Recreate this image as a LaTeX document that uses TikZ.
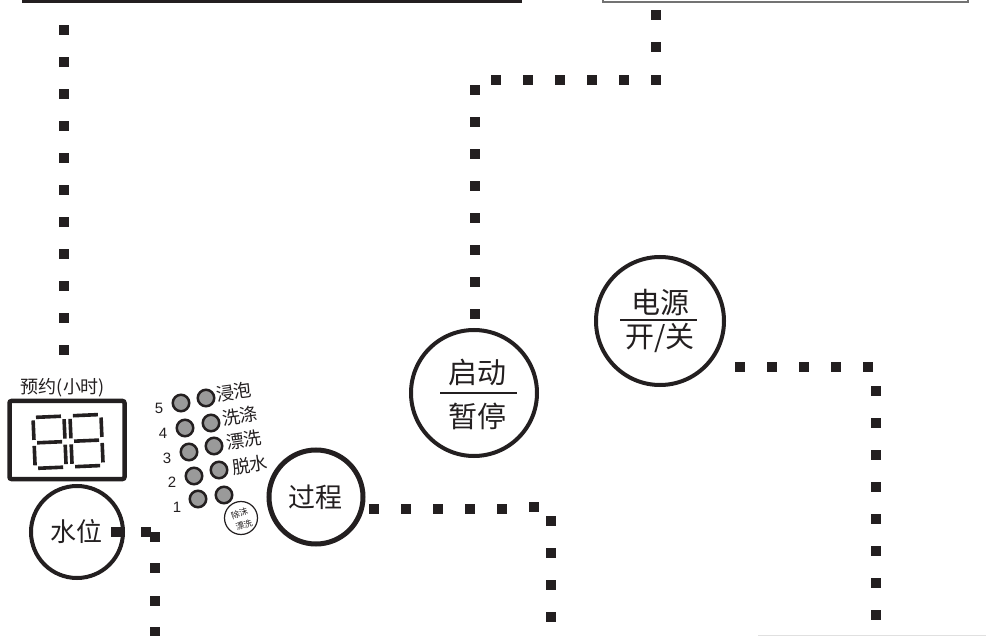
\documentclass[tikz,border=0pt]{standalone}
\usepackage{fontspec}
\setmainfont{Liberation Sans}
\newfontfamily\cjk{Noto Sans CJK SC}
\definecolor{ink}{HTML}{231F20}
\definecolor{ledgray}{HTML}{9A9A9A}
\tikzset{
  sq/.style={rectangle, fill=ink, draw=none, minimum size=10pt, inner sep=0pt},
  ring/.style={circle, draw=ink, line width=4pt, inner sep=0pt},
  led/.style={circle, draw=ink, fill=ledgray, line width=2.5pt, minimum size=16.5pt, inner sep=0pt},
  seg/.style={draw=ink, line width=3.6pt, line cap=butt},
  bigcjk/.style={text=ink, inner sep=0pt, font=\cjk\fontsize{29}{31}\selectfont},
  labcjk/.style={text=ink, inner sep=0pt, font=\cjk\fontsize{18}{20}\selectfont, rotate=8},
  bubcjk/.style={text=ink, inner sep=0pt, font=\cjk\fontsize{8.5}{9}\selectfont, rotate=20},
  num/.style={text=ink, inner sep=0pt, font=\fontsize{15}{17}\selectfont},
  divider/.style={draw=ink, line width=1.5pt}
}
\newcommand\digeight[2]{%
  \draw[seg] ({#1+3},{#2}) -- ({#1+28},{#2});
  \draw[seg] ({#1+3},{#2+25.5}) -- ({#1+28},{#2+25.5});
  \draw[seg] ({#1+3},{#2+51}) -- ({#1+28},{#2+51});
  \draw[seg] ({#1},{#2+3}) -- ({#1},{#2+22.5});
  \draw[seg] ({#1},{#2+28.5}) -- ({#1},{#2+48});
  \draw[seg] ({#1+31},{#2+3}) -- ({#1+31},{#2+22.5});
  \draw[seg] ({#1+31},{#2+28.5}) -- ({#1+31},{#2+48});
}
\begin{document}
\begin{tikzpicture}[x=1pt,y=-1pt]
\useasboundingbox (0,0) rectangle (986,636);
\clip (0,0) rectangle (986,636);

% top boxes (cut off)
\node[draw=ink, line width=3pt, minimum width=497pt, minimum height=40pt, inner sep=0pt] (boxL) at (271.5,-18) {};
\node[draw=black!55, line width=2pt, minimum width=365pt, minimum height=40pt, inner sep=0pt] (boxR) at (785,-18) {};
\draw[black!12, line width=1pt] (758,635.5) -- (986,635.5);

% rings
\node[ring, minimum size=126pt] (start) at (474,393) {};
\node[ring, minimum size=128pt] (power) at (660,321) {};
\node[ring, minimum size=92pt] (water) at (77,532) {};
\node[ring, line width=5pt, minimum size=94pt] (proc) at (316,497) {};

% ring texts
\node[bigcjk] (t1) at (477,372) {启动};
\node[bigcjk] (t2) at (477,416) {暂停};
\draw[divider] (440,393) -- (517,393);
\node[bigcjk] (p1) at (660,303) {电源};
\node[bigcjk] (p2) at (660,338) {开/关};
\draw[divider] (620,320) -- (697,320);
\node[bigcjk, font=\cjk\fontsize{26}{28}\selectfont] (w1) at (76,532) {水位};
\node[bigcjk, font=\cjk\fontsize{27}{29}\selectfont] (g1) at (315,497) {过程};

% display
\node[text=ink, inner sep=0pt, font=\cjk\fontsize{18}{20}\selectfont] (yy) at (63,388) {预约(小时)};
\begin{scope}[rotate around={2.5:(67,440)}]
  \node[draw=ink, line width=4.5pt, rounded corners=2pt, minimum width=115pt, minimum height=78pt, inner sep=0pt] (disp) at (67,440) {};
  \digeight{34}{416}
  \digeight{71}{416}
\end{scope}

% bubble
\node[circle, draw=ink, line width=1.2pt, fill=white, minimum size=33pt, inner sep=0pt] (bub) at (241,518) {};
\node[bubcjk] (bubt1) at (239.6,513.2) {除沫};
\node[bubcjk] (bubt2) at (244.0,525.0) {漂洗};

% LEDs
\node[led] (l5) at (181,403) {};
\node[led] (l4) at (185,428) {};
\node[led] (l3) at (189,452) {};
\node[led] (l2) at (194,476) {};
\node[led] (l1) at (198,499) {};
\node[led] (r1) at (206,398) {};
\node[led] (r2) at (211,423) {};
\node[led] (r3) at (214,446) {};
\node[led] (r4) at (219,470) {};
\node[led] (r5) at (224,495) {};

\node[num] (n5) at (159,408) {5};
\node[num] (n4) at (163,433) {4};
\node[num] (n3) at (167,458) {3};
\node[num] (n2) at (172,482) {2};
\node[num] (n1) at (177,507) {1};

\node[labcjk] (a1) at (234,392) {浸泡};
\node[labcjk] (a2) at (240,416) {洗涤};
\node[labcjk] (a3) at (244,440) {漂洗};
\node[labcjk] (a4) at (250,465) {脱水};

% dotted connectors
\foreach \y in {30,62,...,350} \node[sq] at (64,\y) {};
\foreach \y in {15,47,80} \node[sq] at (656,\y) {};
\foreach \x in {496,528,560,592,624} \node[sq] at (\x,80) {};
\foreach \y in {90,122,...,314} \node[sq] at (475,\y) {};
\foreach \x in {740,772,804,836,868} \node[sq] at (\x,367) {};
\foreach \y in {391,423,...,615} \node[sq] at (876,\y) {};
\foreach \x in {374,406,438,470,502} \node[sq] at (\x,509) {};
\node[sq] at (534,507) {};
\foreach \y in {521,553,585,617} \node[sq] at (551,\y) {};
\node[sq] at (116,532) {};
\node[sq] at (146,532) {};
\node[sq] at (155,537) {};
\foreach \y in {568,601,632} \node[sq] at (155,\y) {};
\end{tikzpicture}
\end{document}
